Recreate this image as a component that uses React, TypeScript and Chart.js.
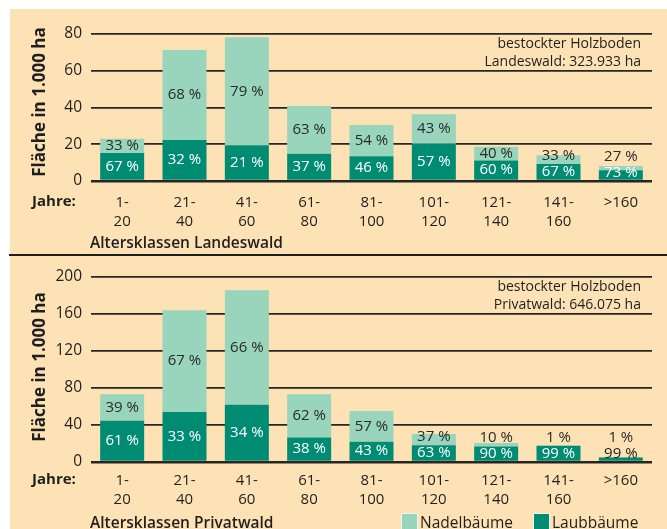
import React, { useEffect, useRef } from 'react';
import { Chart, registerables } from 'chart.js';
Chart.register(...registerables);

const FONT = "'Open Sans', 'DejaVu Sans', sans-serif";

const ageClasses: (string | string[])[] = [
  ['1-', '20'], ['21-', '40'], ['41-', '60'], ['61-', '80'], ['81-', '100'],
  ['101-', '120'], ['121-', '140'], ['141-', '160'], '>160',
];

// Landeswald (1.000 ha)
const landesLaub = [15.3, 22.3, 19.5, 14.8, 13.5, 20.3, 11.2, 9.2, 5.8];
const landesNadel = [7.7, 49.0, 58.7, 26.0, 17.0, 16.0, 7.5, 4.8, 2.4];
const landesLaubPct = [67, 32, 21, 37, 46, 57, 60, 67, 73];
const landesNadelPct = [33, 68, 79, 63, 54, 43, 40, 33, 27];

// Privatwald (1.000 ha)
const privatLaub = [44.5, 54, 62, 26.5, 22, 18, 16.8, 17.5, 5];
const privatNadel = [28.7, 110, 123.6, 46.7, 33.2, 12.3, 3.7, 0.3, 0.1];
const privatLaubPct = [61, 33, 34, 38, 43, 63, 90, 99, 99];
const privatNadelPct = [39, 67, 66, 62, 57, 37, 10, 1, 1];

const landesTicks = [0, 20, 40, 60, 80];
const privatTicks = [0, 40, 80, 120, 160, 200];

const DARK = '#008c73';
const LIGHT = '#99d4bd';
const BG = '#fde2b5';
const INK = '#1f1f1f';

type PanelProps = {
  top: number;
  height: number;
  laub: number[];
  nadel: number[];
  laubPct: number[];
  nadelPct: number[];
  ticks: number[];
  padTop: number;
  xAxisHeight: number;
  tickPad: number;
  titleY: number;
};

function Panel(p: PanelProps) {
  const ref = useRef<HTMLCanvasElement>(null);
  useEffect(() => {
    if (!ref.current) return;
    const labelPlugin = {
      id: 'barLabels',
      afterDatasetsDraw(chart: any) {
        const ctx = chart.ctx;
        const mL = chart.getDatasetMeta(0);
        const mN = chart.getDatasetMeta(1);
        const zeroY = chart.scales.y.getPixelForValue(0);
        ctx.save();
        ctx.font = `15px ${FONT}`;
        ctx.textAlign = 'center';
        ctx.textBaseline = 'middle';
        mL.data.forEach((el: any, i: number) => {
          const nel = mN.data[i];
          const lt = el.y, lb = el.base;
          const nt = nel.y, nb = nel.base;
          const laubY = Math.min((lt + lb) / 2, zeroY - 8.5);
          const nadelY = Math.min((nt + nb) / 2, laubY - 16);
          ctx.fillStyle = laubY >= lt + 1 ? '#ffffff' : INK;
          ctx.fillText(`${p.laubPct[i]} %`, el.x, laubY);
          ctx.fillStyle = '#2a2a2a';
          ctx.fillText(`${p.nadelPct[i]} %`, nel.x, nadelY);
        });
        ctx.restore();
      },
      afterDraw(chart: any) {
        const ctx = chart.ctx;
        ctx.save();
        ctx.translate(40, p.titleY);
        ctx.rotate(-Math.PI / 2);
        ctx.font = `bold 17px ${FONT}`;
        ctx.fillStyle = INK;
        ctx.textAlign = 'center';
        ctx.textBaseline = 'middle';
        ctx.fillText('Fläche in 1.000 ha', 0, 0);
        ctx.restore();
      },
    };
    const yMax = p.ticks[p.ticks.length - 1];
    const chart = new Chart(ref.current, {
      type: 'bar',
      data: {
        labels: ageClasses as any,
        datasets: [
          { label: 'Laubbäume', data: p.laub, backgroundColor: DARK, borderWidth: 0, barPercentage: 0.706, categoryPercentage: 1 },
          { label: 'Nadelbäume', data: p.nadel, backgroundColor: LIGHT, borderWidth: 0, barPercentage: 0.706, categoryPercentage: 1 },
        ],
      },
      options: {
        responsive: false,
        animation: false,
        layout: { padding: { left: 0, top: p.padTop, right: 15, bottom: 0 } },
        plugins: { legend: { display: false }, tooltip: { enabled: false }, title: { display: false } },
        scales: {
          x: {
            stacked: true,
            grid: { display: false },
            border: { display: false },
            ticks: {
              maxRotation: 0,
              autoSkip: false,
              padding: p.tickPad,
              color: INK,
              font: { family: FONT, size: 15, lineHeight: 1.27 },
            },
            afterFit: (s: any) => { s.height = p.xAxisHeight; },
          },
          y: {
            stacked: true,
            min: 0,
            max: yMax,
            afterBuildTicks: (s: any) => { s.ticks = p.ticks.map((v) => ({ value: v })); },
            grid: {
              drawTicks: false,
              color: '#262626',
              lineWidth: (c: any) => (c.tick && c.tick.value === 0 ? 2.6 : 1.8),
            },
            border: { display: false },
            ticks: { padding: 9, color: INK, font: { family: FONT, size: 15.5 } },
            afterFit: (s: any) => { s.width = 91; },
          },
        },
      },
      plugins: [labelPlugin],
    });
    return () => chart.destroy();
  }, []);
  return (
    <canvas
      ref={ref}
      width={667}
      height={p.height}
      style={{ position: 'absolute', left: 0, top: p.top, width: 667, height: p.height }}
    />
  );
}

function Txt(props: { x?: number; right?: number; cy: number; size: number; weight?: number; children: React.ReactNode }) {
  const lh = 20;
  return (
    <div
      style={{
        position: 'absolute',
        left: props.x,
        right: props.right,
        top: props.cy - lh / 2,
        lineHeight: `${lh}px`,
        fontSize: props.size,
        fontWeight: props.weight ?? 400,
        fontFamily: FONT,
        color: INK,
        whiteSpace: 'nowrap',
        textAlign: props.right !== undefined ? 'right' : 'left',
      }}
    >
      {props.children}
    </div>
  );
}

export default function App() {
  useEffect(() => {
    document.body.style.margin = '0';
  }, []);
  return (
    <div style={{ position: 'absolute', left: 0, top: 0, width: 667, height: 529, background: '#ffffff', overflow: 'hidden' }}>
      <div style={{ position: 'absolute', left: 10, top: 9, right: 0, bottom: 0, background: BG }} />
      <div style={{ position: 'absolute', left: 9, top: 254, right: 0, height: 2, background: '#1e1e1e' }} />
      <Panel
        top={0}
        height={255}
        laub={landesLaub}
        nadel={landesNadel}
        laubPct={landesLaubPct}
        nadelPct={landesNadelPct}
        ticks={landesTicks}
        padTop={34}
        xAxisHeight={74}
        tickPad={4.5}
        titleY={102}
      />
      <Panel
        top={255}
        height={274}
        laub={privatLaub}
        nadel={privatNadel}
        laubPct={privatLaubPct}
        nadelPct={privatNadelPct}
        ticks={privatTicks}
        padTop={22}
        xAxisHeight={67}
        tickPad={1.5}
        titleY={112}
      />
      <Txt x={32} cy={200} size={15} weight={700}>Jahre:</Txt>
      <Txt x={32} cy={478} size={15} weight={700}>Jahre:</Txt>
      <Txt x={90} cy={242} size={15.5} weight={600}>Altersklassen Landeswald</Txt>
      <Txt x={90} cy={522} size={15.5} weight={600}>Altersklassen Privatwald</Txt>
      <Txt right={26} cy={43} size={14}>bestockter Holzboden</Txt>
      <Txt right={26} cy={61} size={14}>Landeswald: 323.933 ha</Txt>
      <Txt right={26} cy={286} size={14}>bestockter Holzboden</Txt>
      <Txt right={26} cy={304} size={14}>Privatwald: 646.075 ha</Txt>
      <div style={{ position: 'absolute', left: 401, top: 513, width: 15, height: 16, background: LIGHT, border: '1px solid #eef8f3' }} />
      <Txt x={420} cy={522} size={15.5}>Nadelbäume</Txt>
      <div style={{ position: 'absolute', left: 533, top: 513, width: 15, height: 16, background: DARK, border: '1px solid #eef8f3' }} />
      <Txt x={552} cy={522} size={15.5}>Laubbäume</Txt>
    </div>
  );
}
